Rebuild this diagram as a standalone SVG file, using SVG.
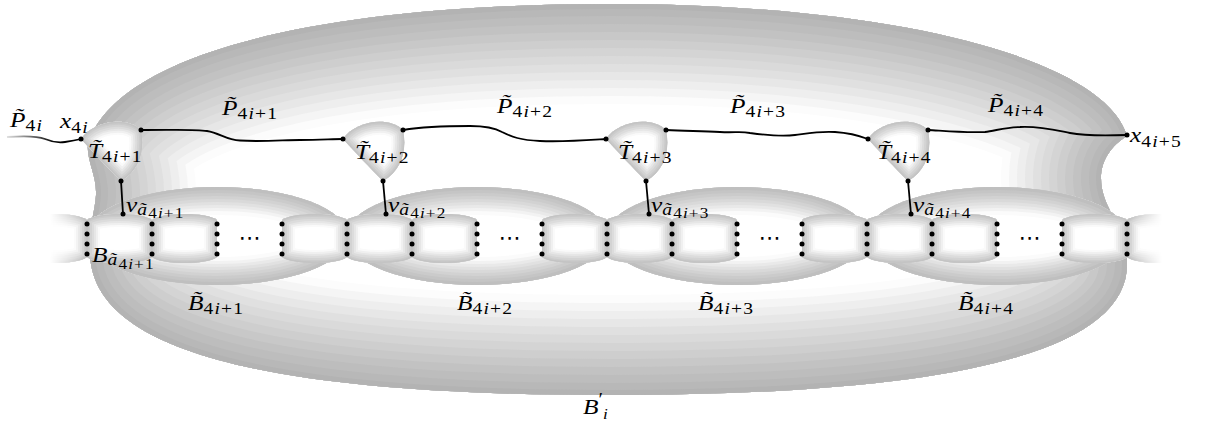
<svg xmlns="http://www.w3.org/2000/svg" xmlns:xlink="http://www.w3.org/1999/xlink" width="1210" height="433" viewBox="0 0 1210 433">
<style>
.g1{fill:none;stroke:#fcfcfc;stroke-width:200}
.g2{fill:none;stroke:#f5f5f5;stroke-width:184}
.g3{fill:none;stroke:#eeeeee;stroke-width:168}
.g4{fill:none;stroke:#e7e7e7;stroke-width:152}
.g5{fill:none;stroke:#e0e0e0;stroke-width:136}
.g6{fill:none;stroke:#dadada;stroke-width:120}
.g7{fill:none;stroke:#d4d4d4;stroke-width:104}
.g8{fill:none;stroke:#cecece;stroke-width:88}
.g9{fill:none;stroke:#c8c8c8;stroke-width:72}
.g10{fill:none;stroke:#c2c2c2;stroke-width:56}
.g11{fill:none;stroke:#bdbdbd;stroke-width:40}
.g12{fill:none;stroke:#b8b8b8;stroke-width:24}
.g13{fill:none;stroke:#b3b3b3;stroke-width:10}
.e1{fill:none;stroke:#fbfbfb;stroke-width:56}
.e2{fill:none;stroke:#f2f2f2;stroke-width:48}
.e3{fill:none;stroke:#e9e9e9;stroke-width:42}
.e4{fill:none;stroke:#e1e1e1;stroke-width:36}
.e5{fill:none;stroke:#d9d9d9;stroke-width:30}
.e6{fill:none;stroke:#d2d2d2;stroke-width:24}
.e7{fill:none;stroke:#cbcbcb;stroke-width:18}
.e8{fill:none;stroke:#c5c5c5;stroke-width:12}
.e9{fill:none;stroke:#bfbfbf;stroke-width:6}
.k1{fill:none;stroke:#fafafa;stroke-width:26}
.k2{fill:none;stroke:#f0f0f0;stroke-width:22}
.k3{fill:none;stroke:#e6e6e6;stroke-width:18}
.k4{fill:none;stroke:#dcdcdc;stroke-width:14}
.k5{fill:none;stroke:#d3d3d3;stroke-width:10}
.k6{fill:none;stroke:#cbcbcb;stroke-width:6}
.k7{fill:none;stroke:#c4c4c4;stroke-width:3}
.ln{fill:none;stroke:#000;stroke-width:1.8;stroke-linecap:round}
.dot{fill:#000}
.t{font-family:"Liberation Serif","Times New Roman",serif;font-style:italic;font-size:22px;fill:#000}
.s{font-size:17px;letter-spacing:1px}
.ss{font-size:15px;letter-spacing:1px}
.n{font-style:normal}
.dd{font-family:"DejaVu Sans","Liberation Sans",sans-serif;font-size:22px;fill:#000}
</style>
<defs>
<path id="bigP" d="M1127,136 C1105,60 900,4 610,4 C330,4 120,50 88,143 C86,160 97,175 96,195 C95,212 89,225 90,250 C88,355 280,395 610,395 C940,395 1130,355 1127,262 C1127,225 1101,210 1101,178 C1101,160 1112,145 1127,136 Z"/>
<clipPath id="bigC"><use xlink:href="#bigP"/></clipPath>
<ellipse id="elP" cx="0" cy="236" rx="131" ry="49"/>
<clipPath id="elC"><use xlink:href="#elP"/></clipPath>
<g id="el" clip-path="url(#elC)">
<use xlink:href="#elP" fill="#fff"/>
<use xlink:href="#elP" class="e1"/><use xlink:href="#elP" class="e2"/><use xlink:href="#elP" class="e3"/>
<use xlink:href="#elP" class="e4"/><use xlink:href="#elP" class="e5"/><use xlink:href="#elP" class="e6"/>
<use xlink:href="#elP" class="e7"/><use xlink:href="#elP" class="e8"/><use xlink:href="#elP" class="e9"/>
</g>
<path id="barP" d="M0,220 C10,212 55,212 65,220 L65,257 C55,265 10,265 0,257 Z"/>
<clipPath id="barC"><use xlink:href="#barP"/></clipPath>
<g id="bar" clip-path="url(#barC)">
<use xlink:href="#barP" fill="#fff"/>
<use xlink:href="#barP" class="k1"/><use xlink:href="#barP" class="k2"/><use xlink:href="#barP" class="k3"/>
<use xlink:href="#barP" class="k4"/><use xlink:href="#barP" class="k5"/><use xlink:href="#barP" class="k6"/>
<use xlink:href="#barP" class="k7"/>
</g>
<path id="triP" d="M0,0 C11,-17 44,-24 60,-9 C64,11 59,31 40,42 C28,30 12,13 0,0 Z"/>
<clipPath id="triC"><use xlink:href="#triP"/></clipPath>
<g id="tri" clip-path="url(#triC)">
<use xlink:href="#triP" fill="#fff"/>
<use xlink:href="#triP" class="k1"/><use xlink:href="#triP" class="k2"/><use xlink:href="#triP" class="k3"/>
<use xlink:href="#triP" class="k4"/><use xlink:href="#triP" class="k5"/><use xlink:href="#triP" class="k6"/>
<use xlink:href="#triP" class="k7"/>
</g>
<g id="dcol">
<circle class="dot" cx="0" cy="224" r="2.5"/><circle class="dot" cx="0" cy="234" r="2.5"/>
<circle class="dot" cx="0" cy="244" r="2.5"/><circle class="dot" cx="0" cy="254" r="2.5"/>
</g>
<linearGradient id="fadeLG" gradientUnits="userSpaceOnUse" x1="50" y1="0" x2="84" y2="0"><stop offset="0" stop-color="#000"/><stop offset="1" stop-color="#fff"/></linearGradient>
<linearGradient id="fadeRG" gradientUnits="userSpaceOnUse" x1="1130" y1="0" x2="1162" y2="0"><stop offset="0" stop-color="#fff"/><stop offset="1" stop-color="#000"/></linearGradient>
<mask id="fadeL" maskUnits="userSpaceOnUse" x="0" y="190" width="200" height="100"><rect x="0" y="190" width="200" height="100" fill="url(#fadeLG)"/></mask>
<mask id="fadeR" maskUnits="userSpaceOnUse" x="1000" y="190" width="210" height="100"><rect x="1000" y="190" width="210" height="100" fill="url(#fadeRG)"/></mask>
<linearGradient id="p0G" gradientUnits="userSpaceOnUse" x1="6" y1="0" x2="55" y2="0"><stop offset="0" stop-color="#000" stop-opacity="0.1"/><stop offset="1" stop-color="#000"/></linearGradient>
</defs>
<rect width="1210" height="433" fill="#fff"/>

<g id="Bprime">
<g clip-path="url(#bigC)">
<use xlink:href="#bigP" fill="#fff"/>
<use xlink:href="#bigP" class="g1"/><use xlink:href="#bigP" class="g2"/><use xlink:href="#bigP" class="g3"/>
<use xlink:href="#bigP" class="g4"/><use xlink:href="#bigP" class="g5"/><use xlink:href="#bigP" class="g6"/>
<use xlink:href="#bigP" class="g7"/><use xlink:href="#bigP" class="g8"/><use xlink:href="#bigP" class="g9"/>
<use xlink:href="#bigP" class="g10"/><use xlink:href="#bigP" class="g11"/><use xlink:href="#bigP" class="g12"/>
<use xlink:href="#bigP" class="g13"/>
</g>
<text class="t" transform="translate(583,414) scale(1.15,1)">B<tspan class="n" font-size="18" dy="-8">′</tspan><tspan dx="0" dy="13" font-size="15">i</tspan></text>
</g>

<g id="Bt1"><use xlink:href="#el" x="217"/><text class="t" transform="translate(188,310) scale(1.15,1)">B̃<tspan class="s" dy="4"><tspan class="n">4</tspan>i<tspan class="n">+1</tspan></tspan></text></g>
<g id="Bt2"><use xlink:href="#el" x="477"/><text class="t" transform="translate(457,310) scale(1.15,1)">B̃<tspan class="s" dy="4"><tspan class="n">4</tspan>i<tspan class="n">+2</tspan></tspan></text></g>
<g id="Bt3"><use xlink:href="#el" x="737"/><text class="t" transform="translate(698,310) scale(1.15,1)">B̃<tspan class="s" dy="4"><tspan class="n">4</tspan>i<tspan class="n">+3</tspan></tspan></text></g>
<g id="Bt4"><use xlink:href="#el" x="997"/><text class="t" transform="translate(958,310) scale(1.15,1)">B̃<tspan class="s" dy="4"><tspan class="n">4</tspan>i<tspan class="n">+4</tspan></tspan></text></g>

<g id="bags">
<g mask="url(#fadeL)"><use xlink:href="#bar" x="22"/></g>
<use xlink:href="#bar" x="87"/><use xlink:href="#bar" x="152"/><use xlink:href="#bar" x="282"/>
<use xlink:href="#bar" x="347"/><use xlink:href="#bar" x="412"/><use xlink:href="#bar" x="542"/>
<use xlink:href="#bar" x="607"/><use xlink:href="#bar" x="672"/><use xlink:href="#bar" x="802"/>
<use xlink:href="#bar" x="867"/><use xlink:href="#bar" x="932"/><use xlink:href="#bar" x="1062"/>
<g mask="url(#fadeR)"><use xlink:href="#bar" x="1127"/></g>
<text class="dd" x="249.5" y="245" text-anchor="middle">⋯</text>
<text class="dd" x="509.5" y="245" text-anchor="middle">⋯</text>
<text class="dd" x="769.5" y="245" text-anchor="middle">⋯</text>
<text class="dd" x="1029.5" y="245" text-anchor="middle">⋯</text>
<text class="t" transform="translate(92,262) scale(1.15,1)">B<tspan class="s" dy="3">ã</tspan><tspan class="ss" dy="4"><tspan class="n">4</tspan>i<tspan class="n">+1</tspan></tspan></text>
</g>

<g id="T1"><use xlink:href="#tri" x="81" y="139"/><text class="t" transform="translate(88,158) scale(1.15,1)">T̃<tspan class="s" dy="4"><tspan class="n">4</tspan>i<tspan class="n">+1</tspan></tspan></text></g>
<g id="T2"><use xlink:href="#tri" x="343" y="139"/><text class="t" transform="translate(355,159) scale(1.15,1)">T̃<tspan class="s" dy="4"><tspan class="n">4</tspan>i<tspan class="n">+2</tspan></tspan></text></g>
<g id="T3"><use xlink:href="#tri" x="606" y="139"/><text class="t" transform="translate(618,159) scale(1.15,1)">T̃<tspan class="s" dy="4"><tspan class="n">4</tspan>i<tspan class="n">+3</tspan></tspan></text></g>
<g id="T4"><use xlink:href="#tri" x="868" y="139"/><text class="t" transform="translate(877,159) scale(1.15,1)">T̃<tspan class="s" dy="4"><tspan class="n">4</tspan>i<tspan class="n">+4</tspan></tspan></text></g>

<g id="connectors">
<path d="M7,137 C20,136 35,135 45,139 C52,142 58,143 65,142 C72,141 77,140 81,139" fill="none" stroke="url(#p0G)" stroke-width="1.8"/>
<path class="ln" d="M141,130 C175,130 195,129 207,131 C220,133 226,140 240,140.5 C260,142 285,140 300,140 C320,140 332,139 343,139"/>
<path class="ln" d="M403,130 C415,128 440,126 470,126 C487,126 495,128 502,132 C512,137 520,140 540,141 C565,142 590,140 606,139"/>
<path class="ln" d="M666,130 C685,131 700,131 720,132 C735,133 740,131 750,133 C765,135 780,137 795,135 C810,133 820,131 835,132 C850,133 860,136 868,139"/>
<path class="ln" d="M928,130 C945,131 965,133 985,132 C995,131 1005,127 1020,127 C1040,126 1055,130 1070,133 C1085,136 1100,136 1127,135"/>
<path class="ln" d="M121,181 L123,214"/>
<path class="ln" d="M383,181 L386,214"/>
<path class="ln" d="M646,181 L649,214"/>
<path class="ln" d="M908,181 L911,214"/>
</g>

<g id="dots">
<use xlink:href="#dcol" x="87"/><use xlink:href="#dcol" x="152"/><use xlink:href="#dcol" x="217"/>
<use xlink:href="#dcol" x="282"/><use xlink:href="#dcol" x="347"/><use xlink:href="#dcol" x="412"/>
<use xlink:href="#dcol" x="477"/><use xlink:href="#dcol" x="542"/><use xlink:href="#dcol" x="607"/>
<use xlink:href="#dcol" x="672"/><use xlink:href="#dcol" x="737"/><use xlink:href="#dcol" x="802"/>
<use xlink:href="#dcol" x="867"/><use xlink:href="#dcol" x="932"/><use xlink:href="#dcol" x="997"/>
<use xlink:href="#dcol" x="1062"/><use xlink:href="#dcol" x="1127"/>
<circle class="dot" cx="81" cy="139" r="2.5"/><circle class="dot" cx="141" cy="130" r="2.5"/>
<circle class="dot" cx="121" cy="181" r="2.5"/><circle class="dot" cx="123" cy="214" r="2.5"/>
<circle class="dot" cx="343" cy="139" r="2.5"/><circle class="dot" cx="403" cy="130" r="2.5"/>
<circle class="dot" cx="383" cy="181" r="2.5"/><circle class="dot" cx="386" cy="214" r="2.5"/>
<circle class="dot" cx="606" cy="139" r="2.5"/><circle class="dot" cx="666" cy="130" r="2.5"/>
<circle class="dot" cx="646" cy="181" r="2.5"/><circle class="dot" cx="649" cy="214" r="2.5"/>
<circle class="dot" cx="868" cy="139" r="2.5"/><circle class="dot" cx="928" cy="130" r="2.5"/>
<circle class="dot" cx="908" cy="181" r="2.5"/><circle class="dot" cx="911" cy="214" r="2.5"/>
<circle class="dot" cx="1127" cy="135" r="2.5"/>
</g>

<g id="labels">
<text class="t" transform="translate(10,127) scale(1.15,1)">P̃<tspan class="s" dy="4"><tspan class="n">4</tspan>i</tspan></text>
<text class="t" transform="translate(60,128) scale(1.15,1)">x<tspan class="s" dy="5"><tspan class="n">4</tspan>i</tspan></text>
<text class="t" transform="translate(222,115) scale(1.15,1)">P̃<tspan class="s" dy="4"><tspan class="n">4</tspan>i<tspan class="n">+1</tspan></tspan></text>
<text class="t" transform="translate(497,113) scale(1.15,1)">P̃<tspan class="s" dy="4"><tspan class="n">4</tspan>i<tspan class="n">+2</tspan></tspan></text>
<text class="t" transform="translate(730,113) scale(1.15,1)">P̃<tspan class="s" dy="4"><tspan class="n">4</tspan>i<tspan class="n">+3</tspan></tspan></text>
<text class="t" transform="translate(988,112) scale(1.15,1)">P̃<tspan class="s" dy="4"><tspan class="n">4</tspan>i<tspan class="n">+4</tspan></tspan></text>
<text class="t" transform="translate(1130,142) scale(1.15,1)">x<tspan class="s" dy="5"><tspan class="n">4</tspan>i<tspan class="n">+5</tspan></tspan></text>
<text class="t" transform="translate(126,212) scale(1.15,1)">v<tspan class="s" dy="3">ã</tspan><tspan class="ss" dy="3"><tspan class="n">4</tspan>i<tspan class="n">+1</tspan></tspan></text>
<text class="t" transform="translate(388,212) scale(1.15,1)">v<tspan class="s" dy="3">ã</tspan><tspan class="ss" dy="3"><tspan class="n">4</tspan>i<tspan class="n">+2</tspan></tspan></text>
<text class="t" transform="translate(651,212) scale(1.15,1)">v<tspan class="s" dy="3">ã</tspan><tspan class="ss" dy="3"><tspan class="n">4</tspan>i<tspan class="n">+3</tspan></tspan></text>
<text class="t" transform="translate(913,212) scale(1.15,1)">v<tspan class="s" dy="3">ã</tspan><tspan class="ss" dy="3"><tspan class="n">4</tspan>i<tspan class="n">+4</tspan></tspan></text>
</g>
</svg>
